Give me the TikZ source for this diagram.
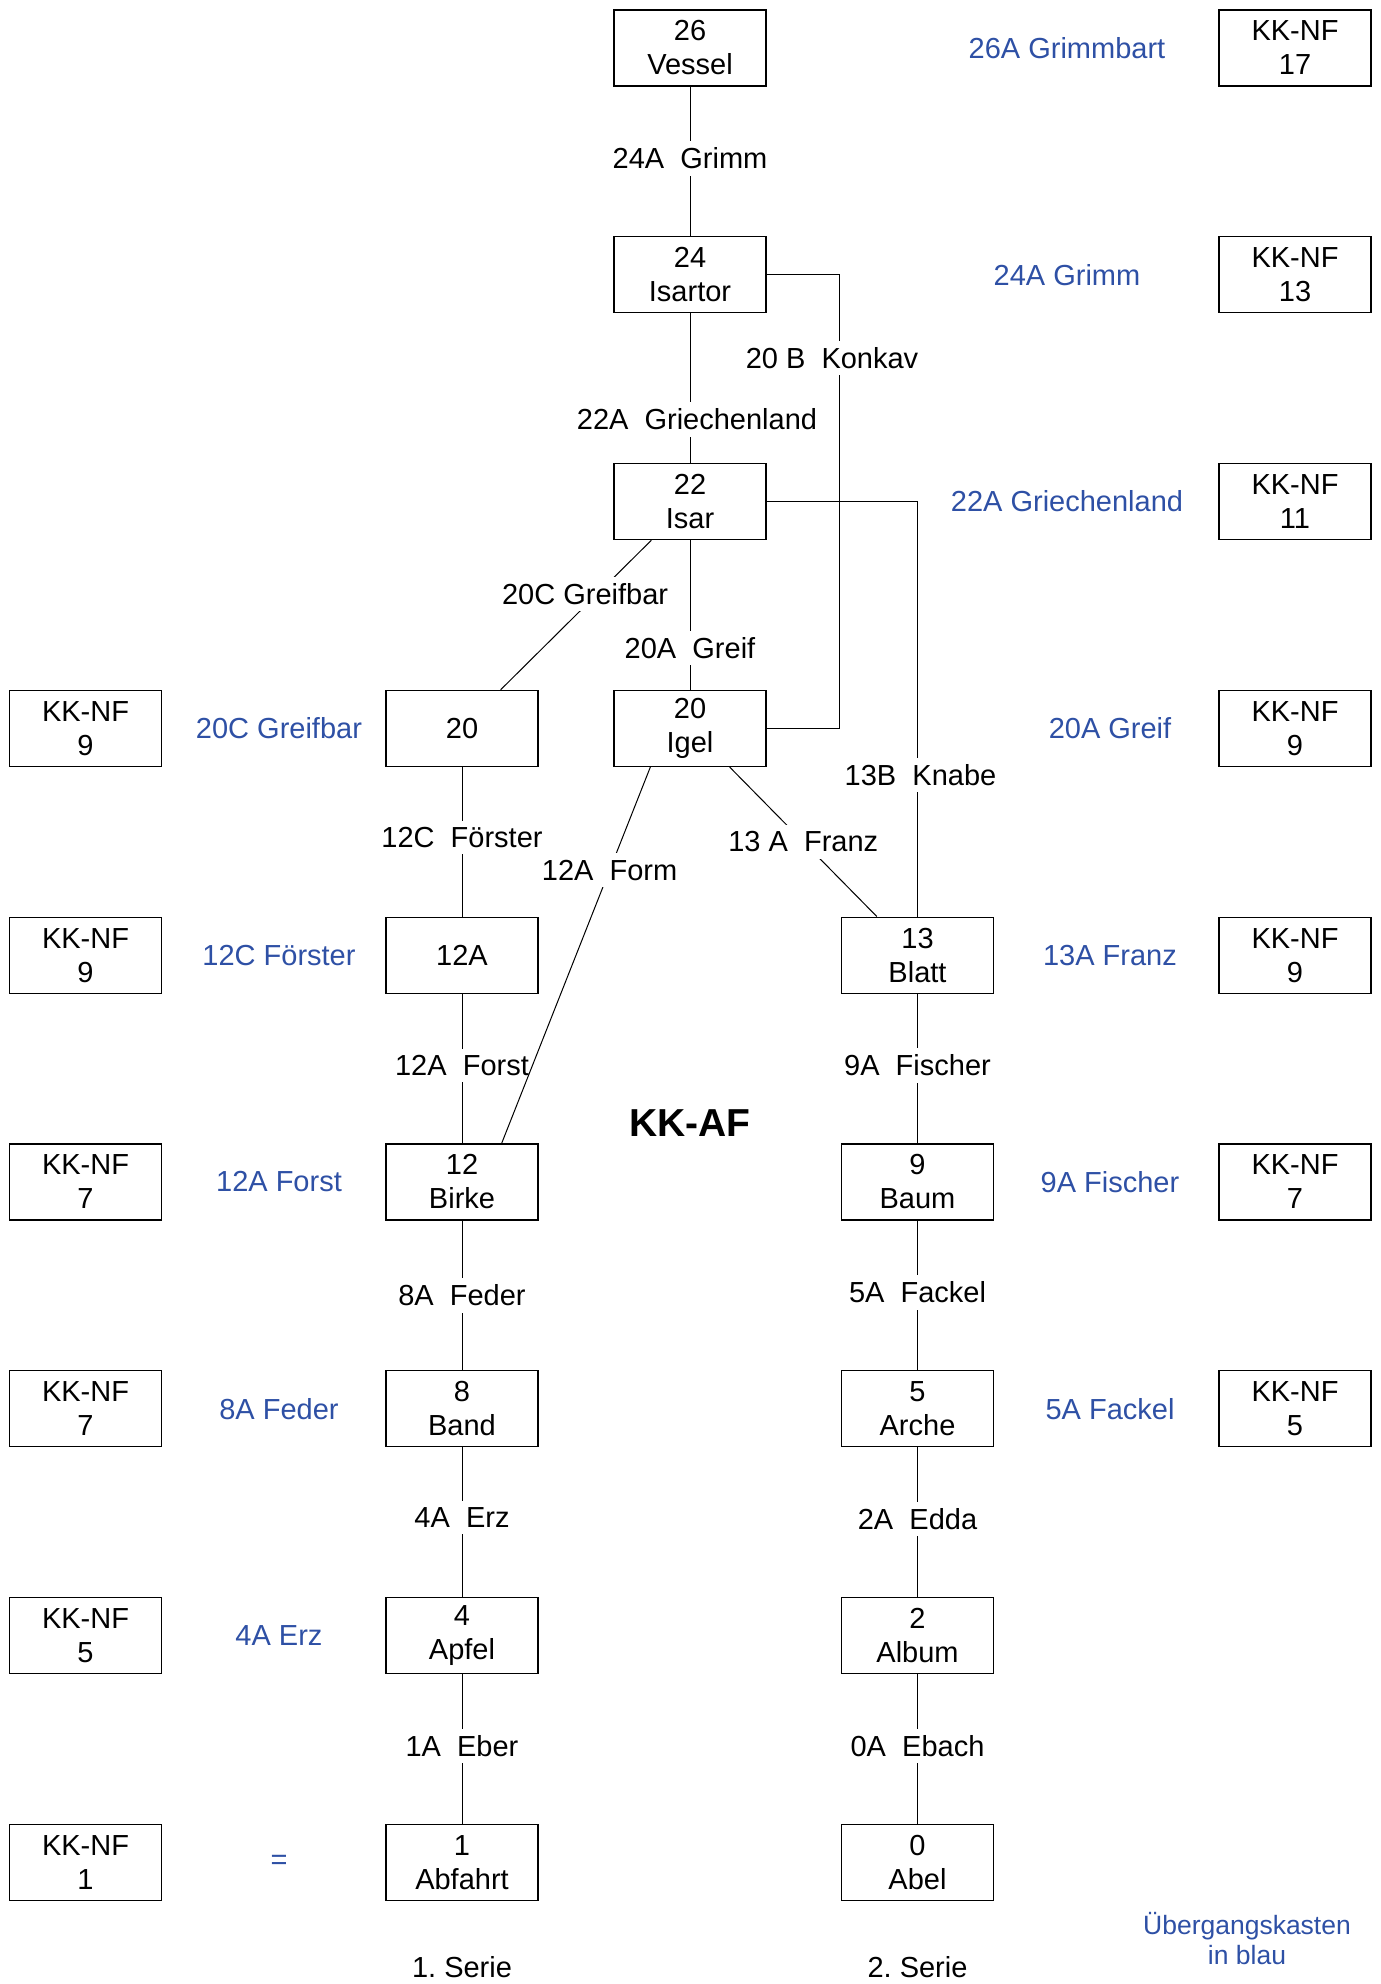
\documentclass[tikz,border=0pt]{standalone}
\usepackage{fontspec}
\setmainfont{Liberation Sans}
\definecolor{kblue}{RGB}{46,80,165}
\begin{document}
\begin{tikzpicture}[x=1pt,y=-1pt,
  box/.style={draw=black, line width=1.3pt, minimum width=152pt, minimum height=76pt, align=center, inner sep=0pt, font=\fontsize{29}{34}\selectfont},
  lbl/.style={fill=white, inner xsep=3pt, inner ysep=6.5pt, font=\fontsize{29}{34}\selectfont},
  bluetxt/.style={text=kblue, align=center, inner sep=0pt, font=\fontsize{29}{34}\selectfont},
  plain/.style={align=center, inner sep=0pt, font=\fontsize{29}{34}\selectfont},
  conn/.style={line width=1pt, draw=black}]
\useasboundingbox (0,0) rectangle (1381,1984);
% main boxes
\node[box] (vessel)  at (690,48)     {26\\Vessel};
\node[box] (isartor) at (690,274.8)  {24\\Isartor};
\node[box] (isar)    at (690,501.6)  {22\\Isar};
\node[box] (n20)     at (462,728.4)  {20};
\node[box] (igel)    at (690,728.4)  {20\\Igel};
\node[box] (n12a)    at (462,955.2)  {12A};
\node[box] (blatt)   at (917.5,955.2) {13\\Blatt};
\node[box] (birke)   at (462,1182)   {12\\Birke};
\node[box] (baum)    at (917.5,1182) {9\\Baum};
\node[box] (band)    at (462,1408.8) {8\\Band};
\node[box] (arche)   at (917.5,1408.8) {5\\Arche};
\node[box] (apfel)   at (462,1635.6) {4\\Apfel};
\node[box] (album)   at (917.5,1635.6) {2\\Album};
\node[box] (abfahrt) at (462,1862.4) {1\\Abfahrt};
\node[box] (abel)    at (917.5,1862.4) {0\\Abel};
% right KK-NF boxes
\node[box] (r1) at (1295,48)     {KK-NF\\17};
\node[box] (r2) at (1295,274.8)  {KK-NF\\13};
\node[box] (r3) at (1295,501.6)  {KK-NF\\11};
\node[box] (r4) at (1295,728.4)  {KK-NF\\9};
\node[box] (r5) at (1295,955.2)  {KK-NF\\9};
\node[box] (r6) at (1295,1182)   {KK-NF\\7};
\node[box] (r7) at (1295,1408.8) {KK-NF\\5};
% left KK-NF boxes
\node[box] (l4) at (85.5,728.4)  {KK-NF\\9};
\node[box] (l5) at (85.5,955.2)  {KK-NF\\9};
\node[box] (l6) at (85.5,1182)   {KK-NF\\7};
\node[box] (l7) at (85.5,1408.8) {KK-NF\\7};
\node[box] (l8) at (85.5,1635.6) {KK-NF\\5};
\node[box] (l9) at (85.5,1862.4) {KK-NF\\1};
% blue labels right
\node[bluetxt] (b1) at (1067,48)    {26A Grimmbart};
\node[bluetxt] (b2) at (1067,274.8) {24A Grimm};
\node[bluetxt] (b3) at (1067,501.6) {22A Griechenland};
\node[bluetxt] (b4) at (1110,728.4) {20A Greif};
\node[bluetxt] (b5) at (1110,955.2) {13A Franz};
\node[bluetxt] (b6) at (1110,1182)  {9A Fischer};
\node[bluetxt] (b7) at (1110,1408.8) {5A Fackel};
% blue labels left
\node[bluetxt] (c4) at (279,728.4)  {20C Greifbar};
\node[bluetxt] (c5) at (279,955.2)  {12C Förster};
\node[bluetxt] (c6) at (279,1182)   {12A Forst};
\node[bluetxt] (c7) at (279,1408.8) {8A Feder};
\node[bluetxt] (c8) at (279,1635.6) {4A Erz};
\node[bluetxt] (c9) at (279,1862.4) {=};
% title and notes
\node[plain, font=\fontsize{39}{44}\selectfont\bfseries] (title) at (690,1123) {KK-AF};
\node[plain, anchor=base] (s1) at (462,1977) {1.\ Serie};
\node[plain, anchor=base] (s2) at (917.5,1977) {2.\ Serie};
\node[bluetxt, anchor=base, font=\fontsize{26.5}{30}\selectfont] (note) at (1247,1964) {Übergangskasten\\in blau};
% helper coordinate
\coordinate (kx) at (839,0);
% connectors
\draw[conn] (vessel) -- node[lbl,pos=0.48]{24A\ \ Grimm} (isartor);
\draw[conn] (isartor) -- node[lbl,pos=0.71,xshift=7pt]{22A\ \ Griechenland} (isar);
\draw[conn] (isar) -- node[lbl,pos=0.72]{20A\ \ Greif} (igel);
\draw[conn] (isartor.east) -- (isartor.east -| kx) -- node[lbl,pos=0.183,xshift=-7pt]{20 B\ \ Konkav} (igel.east -| kx) -- (igel.east);
\draw[conn] (isar.east) -- (isar.east -| blatt.north) -- node[lbl,pos=0.658,xshift=3pt]{13B\ \ Knabe} (blatt.north);
\draw[conn] ([xshift=38pt]isar.south west) -- node[lbl,pos=0.36,xshift=-12pt]{20C Greifbar} ([xshift=-38pt]n20.north east);
\draw[conn] (n20) -- node[lbl,pos=0.47]{12C\ \ Förster} (n12a);
\draw[conn] (n12a) -- node[lbl,pos=0.48]{12A\ \ Forst} (birke);
\draw[conn] ([xshift=37pt]igel.south west) -- node[lbl,pos=0.274]{12A\ \ Form} ([xshift=-37pt]birke.north east);
\draw[conn] ([xshift=-37pt]igel.south east) -- node[lbl,pos=0.5]{13 A\ \ Franz} ([xshift=36pt]blatt.north west);
\draw[conn] (blatt) -- node[lbl,pos=0.48]{9A\ \ Fischer} (baum);
\draw[conn] (baum) -- node[lbl,pos=0.48]{5A\ \ Fackel} (arche);
\draw[conn] (arche) -- node[lbl,pos=0.48]{2A\ \ Edda} (album);
\draw[conn] (album) -- node[lbl,pos=0.48]{0A\ \ Ebach} (abel);
\draw[conn] (birke) -- node[lbl,pos=0.5]{8A\ \ Feder} (band);
\draw[conn] (band) -- node[lbl,pos=0.47]{4A\ \ Erz} (apfel);
\draw[conn] (apfel) -- node[lbl,pos=0.48]{1A\ \ Eber} (abfahrt);
\end{tikzpicture}
\end{document}
